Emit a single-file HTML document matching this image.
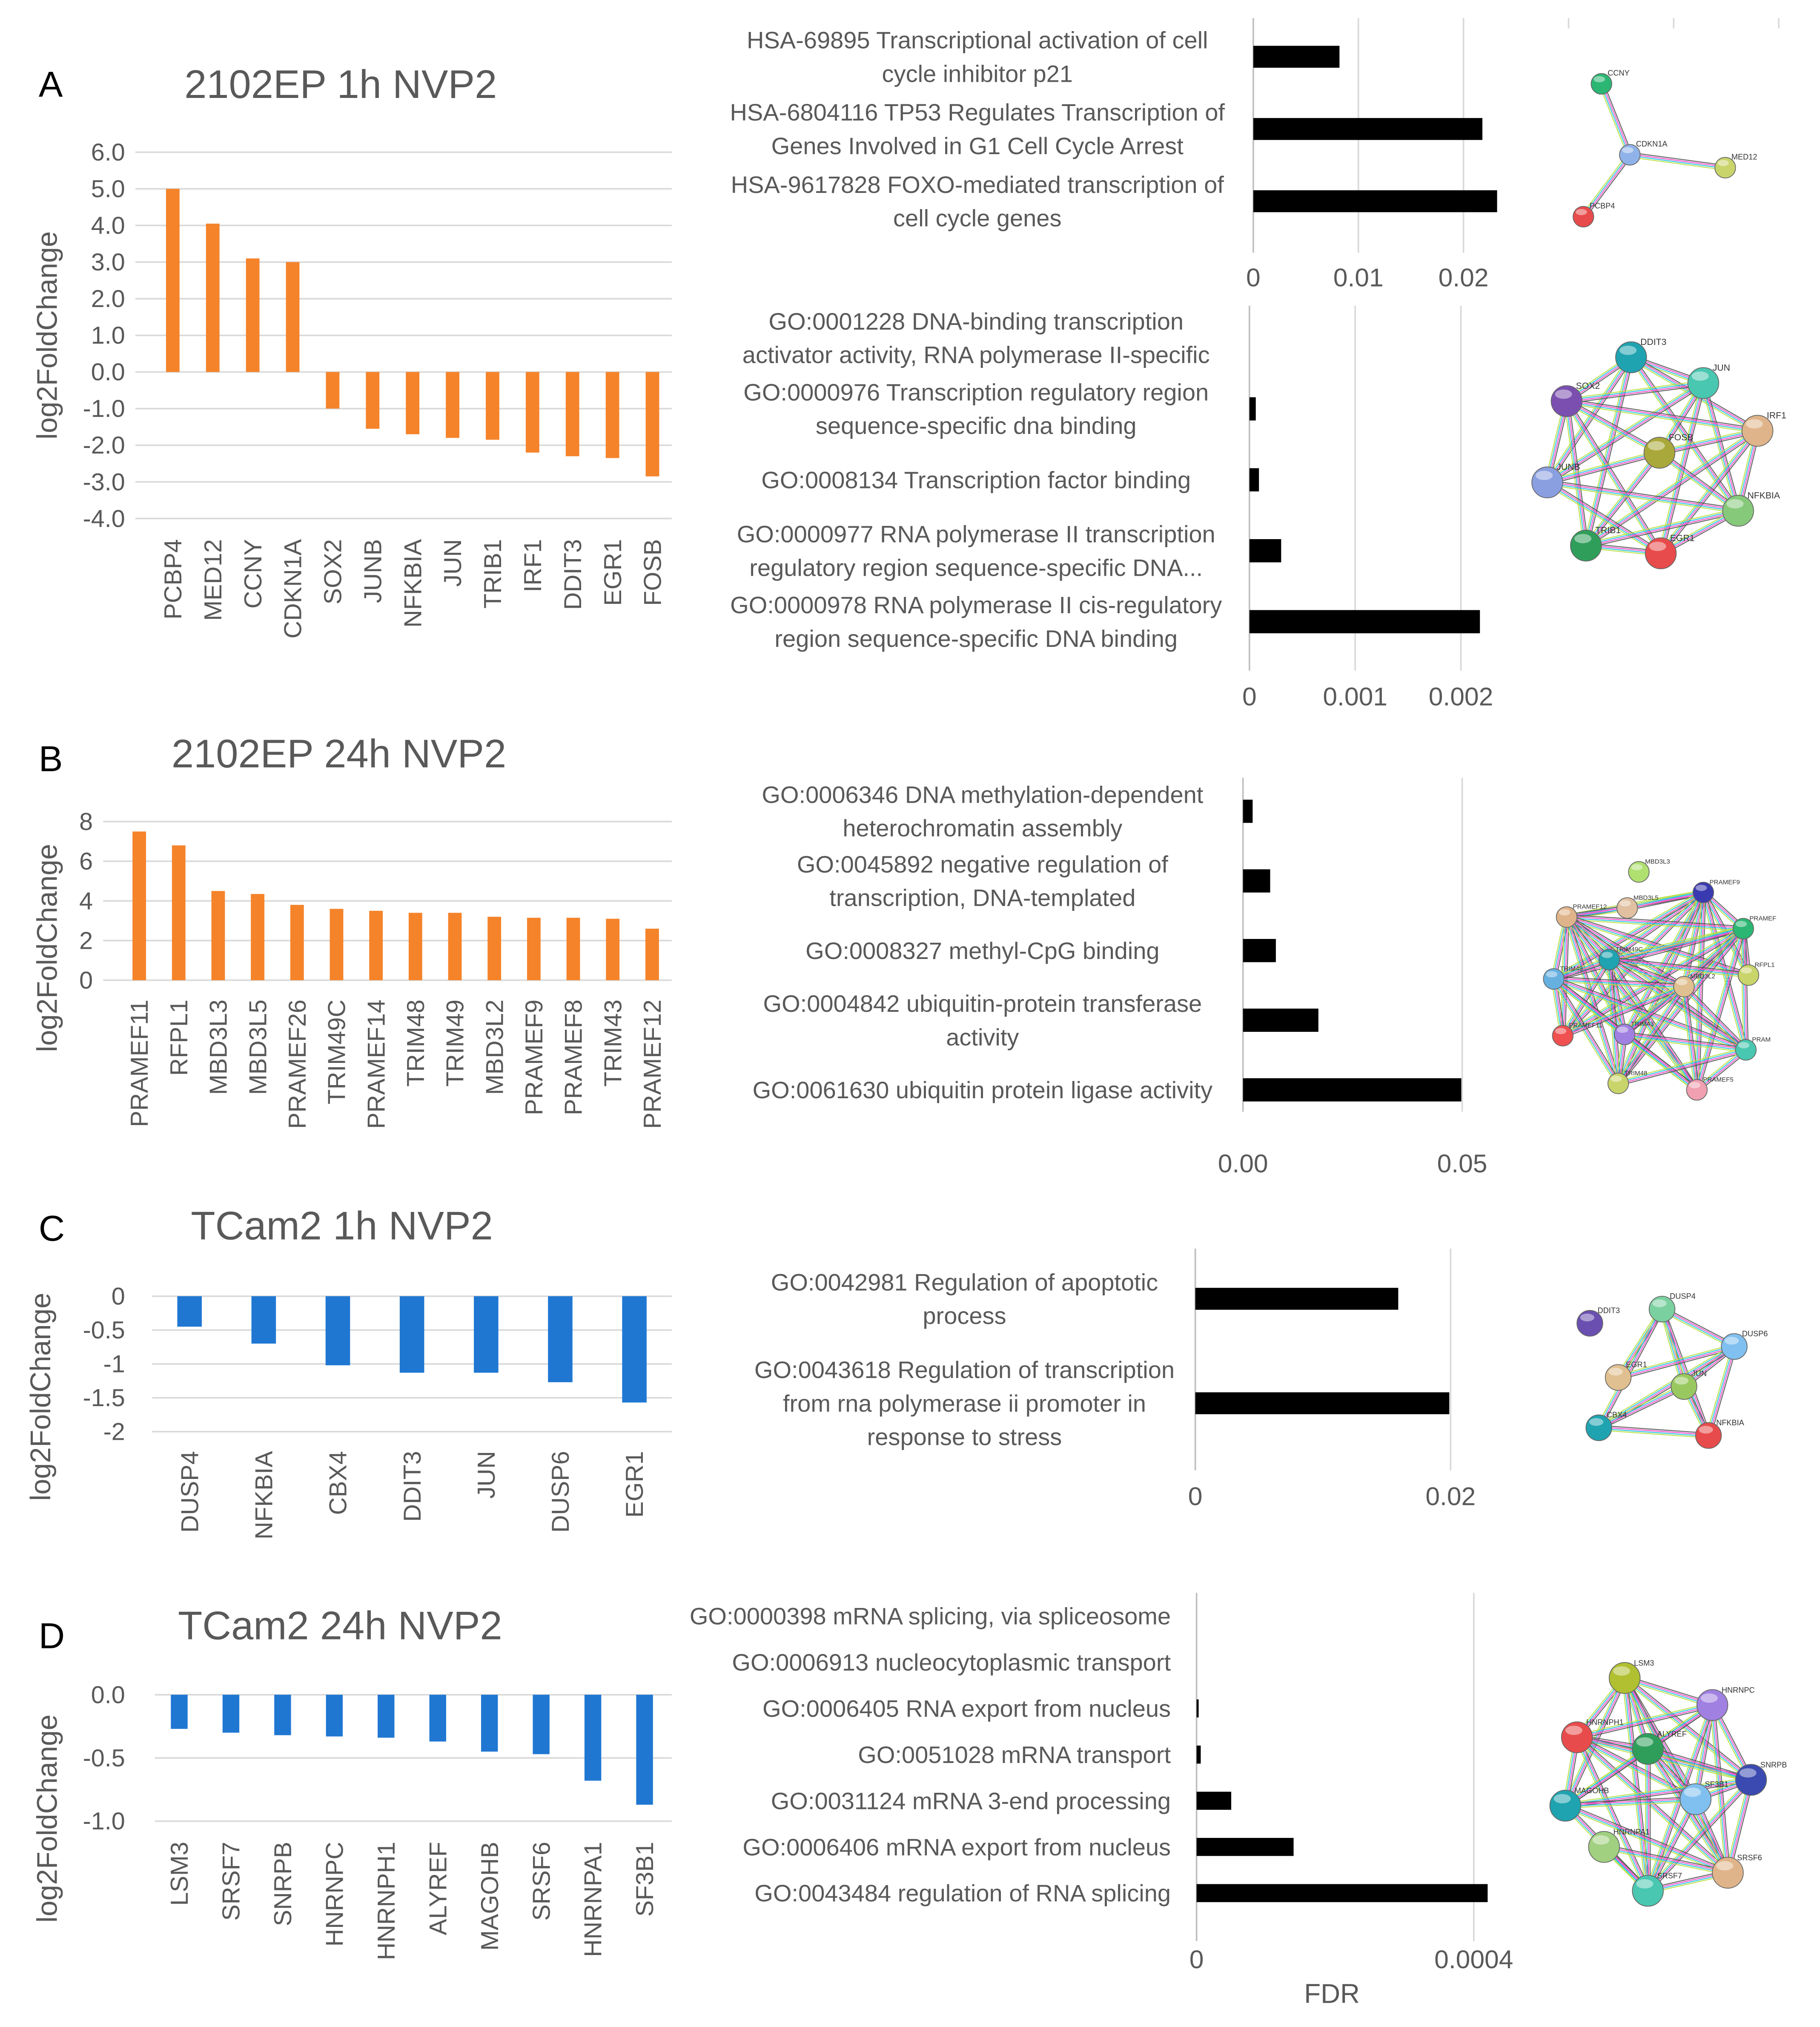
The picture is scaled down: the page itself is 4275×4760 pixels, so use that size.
<!DOCTYPE html>
<html><head><meta charset="utf-8"><style>
html,body{margin:0;padding:0;background:#fff;}
svg{display:block;}
text{font-family:"Liberation Sans",sans-serif;fill:#595959;}
</style></head><body>
<svg id="fig" xmlns="http://www.w3.org/2000/svg" width="4275" height="4760" viewBox="0 0 1411.5 1571.6">
<rect width="1411.5" height="1571.6" fill="#fff"/>
</svg>
<script>
// ---- Panel A bar data ----
const aGenes=["PCBP4","MED12","CCNY","CDKN1A","SOX2","JUNB","NFKBIA","JUN","TRIB1","IRF1","DDIT3","EGR1","FOSB"];
const aVals=[5.0,4.05,3.1,3.0,-1.0,-1.55,-1.7,-1.8,-1.85,-2.2,-2.3,-2.35,-2.85];
const aTicks=[6,5,4,3,2,1,0,-1,-2,-3,-4];
// ---- Panel B bar data ----
const bGenes=["PRAMEF11","RFPL1","MBD3L3","MBD3L5","PRAMEF26","TRIM49C","PRAMEF14","TRIM48","TRIM49","MBD3L2","PRAMEF9","PRAMEF8","TRIM43","PRAMEF12"];
const bVals=[7.5,6.8,4.5,4.35,3.8,3.6,3.5,3.4,3.4,3.2,3.15,3.15,3.1,2.6];
const bTicks=[8,6,4,2,0];
// ---- Panel C bar data ----
const cGenes=["DUSP4","NFKBIA","CBX4","DDIT3","JUN","DUSP6","EGR1"];
const cVals=[-0.45,-0.7,-1.02,-1.13,-1.13,-1.27,-1.57];
const cTicks=[0,-0.5,-1,-1.5,-2];
// ---- Panel D bar data ----
const dGenes=["LSM3","SRSF7","SNRPB","HNRNPC","HNRNPH1","ALYREF","MAGOHB","SRSF6","HNRNPA1","SF3B1"];
const dVals=[-0.27,-0.3,-0.32,-0.33,-0.34,-0.37,-0.45,-0.47,-0.68,-0.87];
const dTicks=[0,-0.5,-1];
// ---- Enrichment (FDR) data ----
const a1Terms=[["HSA-69895 Transcriptional  activation of  cell","cycle inhibitor p21"],["HSA-6804116 TP53 Regulates Transcription of","Genes Involved in G1 Cell Cycle Arrest"],["HSA-9617828 FOXO-mediated transcription of","cell cycle genes"]];
const a1Vals=[0.0082,0.0218,0.0232];
const a1Ticks=[0,0.01,0.02];
const a1TickLabels=["0","0.01","0.02"];
const a2Terms=[["GO:0001228 DNA-binding transcription","activator activity, RNA polymerase II-specific"],["GO:0000976 Transcription regulatory region","sequence-specific dna binding"],["GO:0008134 Transcription factor binding"],["GO:0000977 RNA polymerase II transcription","regulatory region sequence-specific DNA..."],["GO:0000978 RNA polymerase II cis-regulatory","region sequence-specific DNA binding"]];
const a2Vals=[0,0.00006,0.00009,0.0003,0.00218];
const a2Ticks=[0,0.001,0.002];
const a2TickLabels=["0","0.001","0.002"];
const bTerms=[["GO:0006346 DNA methylation-dependent","heterochromatin assembly"],["GO:0045892 negative regulation of","transcription, DNA-templated"],["GO:0008327 methyl-CpG binding"],["GO:0004842 ubiquitin-protein transferase","activity"],["GO:0061630 ubiquitin protein ligase activity"]];
const bFdr=[0.0022,0.0062,0.0075,0.0172,0.0498];
const bFdrTicks=[0,0.05];
const bFdrTickLabels=["0.00","0.05"];
const cTerms=[["GO:0042981 Regulation of apoptotic","process"],["GO:0043618 Regulation of transcription","from rna polymerase ii promoter in","response to stress"]];
const cFdr=[0.0159,0.0199];
const cFdrTicks=[0,0.02];
const cFdrTickLabels=["0","0.02"];
const dTerms=[["GO:0000398 mRNA splicing, via spliceosome"],["GO:0006913 nucleocytoplasmic transport"],["GO:0006405 RNA export from nucleus"],["GO:0051028 mRNA transport"],["GO:0031124 mRNA 3-end processing"],["GO:0006406 mRNA export from nucleus"],["GO:0043484 regulation of RNA splicing"]];
const dFdr=[0,0,0.000003,0.000006,0.00005,0.00014,0.00042];
const dFdrTicks=[0,0.0004];
const dFdrTickLabels=["0","0.0004"];

const NS="http://www.w3.org/2000/svg";
const svg=document.getElementById('fig');
function mk(tag,attrs,parent){const e=document.createElementNS(NS,tag);for(const k in attrs)e.setAttribute(k,attrs[k]);(parent||svg).appendChild(e);return e;}
function txt(x,y,s,size,anchor,parent){const t=mk('text',{x:x,y:y,'font-size':size,'text-anchor':anchor||'start'},parent);t.textContent=s;return t;}

function vbar(o){
  const g=mk('g',{});
  
  
  const ys=v=>o.pxTop+(o.vTop-v)*(o.pxBot-o.pxTop)/(o.vTop-o.vBot);
  o.ticks.forEach(t=>{
    const l=mk('line',{x1:o.gx0,x2:o.gx1,y1:ys(t),y2:ys(t),stroke:'#d9d9d9','stroke-width':1.2},g);
    
    
    const lab=(o.dec>=0)?t.toFixed(o.dec):String(t);
    const tl=txt(o.tickX,ys(t)+6.5,lab,19,'end',g);
    
    
  });
  o.cats.forEach((c,i)=>{
    const cx=o.firstX+i*o.step, v=o.vals[i];
    const y0=ys(0), y1=ys(v);
    const r=mk('rect',{x:cx-o.bw/2,y:Math.min(y0,y1),width:o.bw,height:Math.abs(y1-y0),fill:o.color},g);
    
    
    const t=mk('text',{x:cx,y:o.labelY,'font-size':19,'text-anchor':'end',dy:'0.35em',transform:'rotate(-90 '+cx+' '+o.labelY+')'},g);
    t.textContent=c;
    
    
  });
  const yt=mk('text',{x:o.ytX,y:o.ytY,'font-size':22,'text-anchor':'middle',transform:'rotate(-90 '+o.ytX+' '+o.ytY+')'},g);
  yt.textContent='log2FoldChange';
  
  
}

function hbar(o){
  const g=mk('g',{});
  
  
  const xs=v=>o.x0+(v-o.ticks[0])*(o.x1-o.x0)/(o.ticks[o.ticks.length-1]-o.ticks[0]);
  o.ticks.forEach((t,i)=>{
    const l=mk('line',{x1:xs(t),x2:xs(t),y1:o.top,y2:o.bot,stroke:i==0?'#bfbfbf':'#d9d9d9','stroke-width':1.2},g);
    
    
    const tl=txt(xs(t),o.tickY,o.tickLabels[i],20,'middle',g);
    
    
  });
  if(o.extraGrid){o.extraGrid.forEach(k=>{const l=mk('line',{x1:o.x0+k*(o.x1-o.x0),x2:o.x0+k*(o.x1-o.x0),y1:o.top,y2:o.top+8,stroke:'#d9d9d9','stroke-width':1.2},g);
    
    });}
  o.terms.forEach((lines,i)=>{
    const cy=o.firstY+i*o.step;
    const w=xs(o.vals[i])-xs(0);
    const r=mk('rect',{x:xs(0),y:cy-o.bh/2,width:Math.max(w,0),height:o.bh,fill:'#000'},g);
    
    
    const lh=26, n=lines.length;
    lines.forEach((s,j)=>{
      const t=txt(o.labX,cy+(j-(n-1)/2)*lh+6.5,s,18.5,o.labAnchor,g);
      
      
    });
  });
}

// Panel labels & titles
[["A",30,75],["B",30,598],["C",30,962],["D",30,1278]].forEach(p=>{
  const t=txt(p[1],p[2],p[0],28,'start');t.style.fill='#000';
  
  
});
[["2102EP 1h NVP2",143,76],["2102EP 24h NVP2",133,595],["TCam2 1h NVP2",148,961],["TCam2 24h NVP2",138,1271]].forEach((p,i)=>{
  const t=txt(p[1],p[2],p[0],31,'start');
  
  
});

vbar({name:'panel-a-bar-chart',cats:aGenes,vals:aVals,ticks:aTicks,vTop:6,vBot:-4,pxTop:118,pxBot:402,gx0:105,gx1:521,tickX:97,dec:1,firstX:134,step:31,bw:10.5,color:'#F5832A',labelY:418,ytX:44,ytY:260});
vbar({name:'panel-b-bar-chart',cats:bGenes,vals:bVals,ticks:bTicks,vTop:8,vBot:0,pxTop:637,pxBot:760,gx0:80,gx1:521,tickX:72,dec:0,firstX:108,step:30.6,bw:10.5,color:'#F5832A',labelY:775,ytX:44,ytY:735});
vbar({name:'panel-c-bar-chart',cats:cGenes,vals:cVals,ticks:cTicks,vTop:0,vBot:-2,pxTop:1005,pxBot:1110,gx0:118,gx1:521,tickX:97,dec:-1,firstX:147,step:57.5,bw:19,color:'#1F77D2',labelY:1125,ytX:39,ytY:1083});
vbar({name:'panel-d-bar-chart',cats:dGenes,vals:dVals,ticks:dTicks,vTop:0,vBot:-1,pxTop:1314,pxBot:1412,gx0:120,gx1:521,tickX:97,dec:1,firstX:139,step:40.1,bw:13,color:'#1F77D2',labelY:1428,ytX:44,ytY:1410});

hbar({name:'panel-a-reactome-chart',terms:a1Terms,vals:a1Vals,ticks:a1Ticks,tickLabels:a1TickLabels,x0:972,x1:1135,top:14,bot:196,tickY:222,firstY:44,step:56,bh:17,labX:758,labAnchor:'middle',extraGrid:[1.5,2,2.5]});
hbar({name:'panel-a-go-chart',terms:a2Terms,vals:a2Vals,ticks:a2Ticks,tickLabels:a2TickLabels,x0:969,x1:1133,top:237,bot:520,tickY:547,firstY:262,step:55,bh:18,labX:757,labAnchor:'middle'});
hbar({name:'panel-b-go-chart',terms:bTerms,vals:bFdr,ticks:bFdrTicks,tickLabels:bFdrTickLabels,x0:964,x1:1134,top:603,bot:862,tickY:909,firstY:629,step:54,bh:18,labX:762,labAnchor:'middle'});
hbar({name:'panel-c-go-chart',terms:cTerms,vals:cFdr,ticks:cFdrTicks,tickLabels:cFdrTickLabels,x0:927,x1:1125,top:968,bot:1140,tickY:1167,firstY:1007,step:81,bh:17,labX:748,labAnchor:'middle'});
hbar({name:'panel-d-go-chart',terms:dTerms,vals:dFdr,ticks:dFdrTicks,tickLabels:dFdrTickLabels,x0:928,x1:1143,top:1235,bot:1505,tickY:1526,firstY:1253,step:35.8,bh:14,labX:908,labAnchor:'end'});
const fdr=txt(1033,1553,'FDR',21,'middle');



// ---- STRING networks (illustrative) ----
function network(name,nodes,edges,r,fs){
  const g=mk('g',{});
  
  
  const ecol=['#555','#ff44cc','#22c0e0','#b8e040'];
  edges.forEach(e=>{
    const a=nodes[e[0]],b=nodes[e[1]];
    const dx=b[2]-a[2],dy=b[3]-a[3],L=Math.hypot(dx,dy)||1,nx=-dy/L,ny=dx/L;
    ecol.forEach((c,k)=>{const o=(k-1.5)*1.2;
      mk('line',{x1:a[2]+nx*o,y1:a[3]+ny*o,x2:b[2]+nx*o,y2:b[3]+ny*o,stroke:c,'stroke-width':0.8,opacity:0.85},g);});
  });
  nodes.forEach((n,i)=>{
    const c=mk('circle',{cx:n[2],cy:n[3],r:r,fill:n[1],stroke:'#666','stroke-width':0.6},g);
    
    
    mk('ellipse',{cx:n[2]-r*0.2,cy:n[3]-r*0.45,rx:r*0.55,ry:r*0.3,fill:'#fff',opacity:0.45},g);
    const t=txt(n[2]+r*0.6,n[3]-r*0.8,n[0],fs,'start',g);t.style.fill='#333';
    
    
  });
}
function allPairs(n,skip){const e=[];for(let i=0;i<n;i++)for(let j=i+1;j<n;j++){if((i*7+j*3)%skip!==0)e.push([i,j]);}return e;}
network('network-a1',[["CCNY",'#2bb673',1242,65],["CDKN1A",'#8fb3e8',1264,120],["MED12",'#c9d46a',1338,130],["PCBP4",'#e84b4b',1228,168]],[[0,1],[1,2],[1,3]],8,6);
network('network-a2',[["DDIT3",'#1fa3b0',1265,277],["JUN",'#49c7b0',1321,297],["SOX2",'#7b4fb0',1215,311],["IRF1",'#e0b48a',1363,334],["FOSB",'#a9a83a',1287,351],["JUNB",'#8a9fe0',1200,374],["NFKBIA",'#86c97a',1348,396],["TRIB1",'#2f9e5a',1230,423],["EGR1",'#e84b4b',1288,429]],allPairs(9,4),12,7);
network('network-b',[["MBD3L3",'#b0e070',1271,676],["PRAMEF9",'#3a3ab0',1321,692],["PRAMEF12",'#e0b48a',1215,711],["MBD3L5",'#e0c0a0',1262,704],["PRAMEF",'#2bb673',1352,720],["TRIM49C",'#1fa3b0',1248,744],["RFPL1",'#c9d46a',1356,756],["TRIM49",'#66b0e0',1205,759],["MBD3L2",'#e0c090',1306,765],["PRAMEF11",'#f05050',1212,803],["TRIM43",'#a080e0',1260,802],["PRAM",'#49c7b0',1354,814],["TRIM48",'#c9d46a',1255,840],["PRAMEF5",'#f0a0b0',1316,845]],allPairs(14,3),8,5);
network('network-c',[["DDIT3",'#6a4fb0',1233,1026],["DUSP4",'#7bd0a0',1289,1015],["DUSP6",'#80c0f0',1345,1044],["EGR1",'#e0c090',1255,1068],["JUN",'#9ac860',1306,1075],["CBX4",'#1fa3b0',1240,1107],["NFKBIA",'#e84b4b',1325,1113]],allPairs(7,3),10,6);
network('network-d',[["LSM3",'#b0c030',1260,1301],["HNRNPC",'#a080e0',1328,1322],["HNRNPH1",'#e84b4b',1223,1347],["ALYREF",'#2f9e5a',1278,1356],["SNRPB",'#3a4ab0',1358,1380],["MAGOHB",'#1fa3b0',1214,1400],["SF3B1",'#80c0f0',1315,1395],["HNRNPA1",'#a0d080',1244,1432],["SRSF7",'#49c7b0',1278,1466],["SRSF6",'#e0b48a',1340,1452]],allPairs(10,7),12,6);
</script>
</body></html>
